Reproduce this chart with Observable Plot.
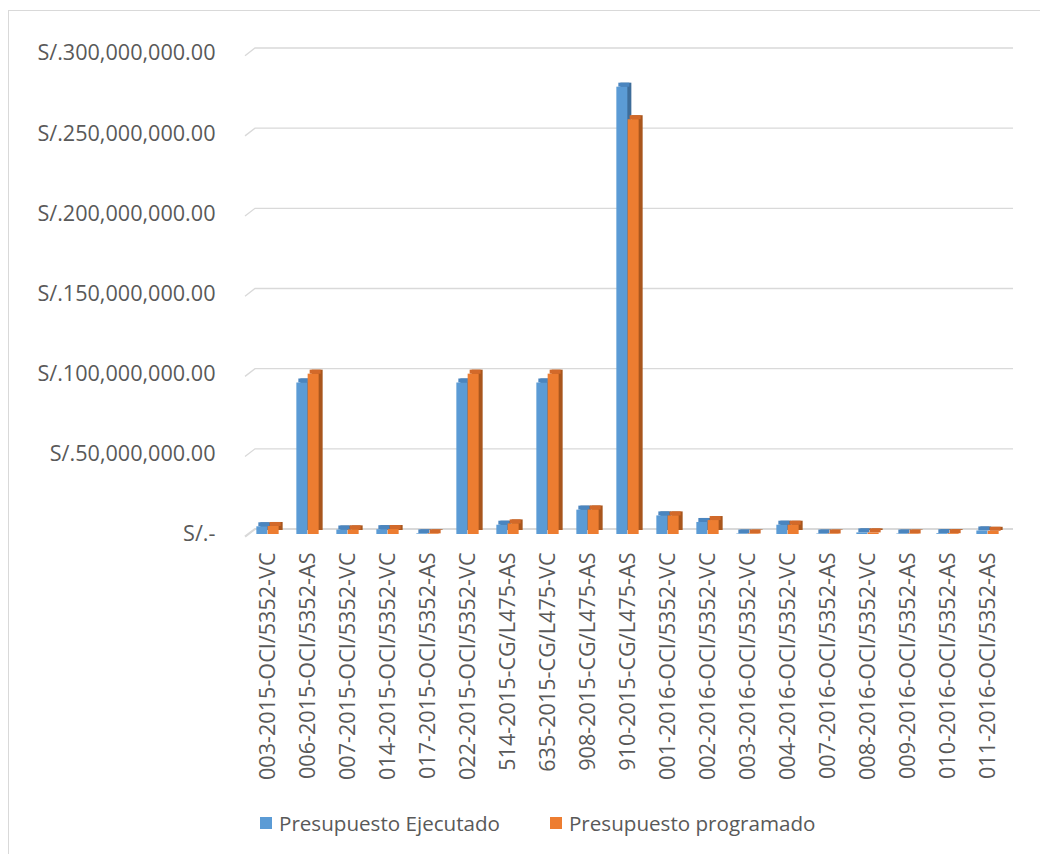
<!DOCTYPE html>
<html>
<head>
<meta charset="utf-8">
<script src="https://cdn.jsdelivr.net/npm/d3@7"></script>
<script src="https://cdn.jsdelivr.net/npm/@observablehq/plot@0.6"></script>
<style>
  html, body { margin: 0; padding: 0; background: #fff; }
  #wrap { position: relative; width: 1040px; height: 854px; overflow: hidden; font-family: "Open Sans", sans-serif; }
  #frame { position: absolute; left: 8px; top: 10px; width: 1040px; height: 860px; border-left: 1px solid #d9d9d9; border-top: 1px solid #d9d9d9; }
  #chart { position: absolute; left: 0; top: 0; }
  #legend { position: absolute; left: 260px; top: 809px; display: flex; align-items: center; color: #595959; font-size: 20.6px; }
  #legend .item { display: flex; align-items: center; margin-right: 50px; }
  #legend .sw { width: 12px; height: 12px; margin-right: 7px; }
</style>
</head>
<body>
<div id="wrap">
  <div id="frame"></div>
  <div id="chart"></div>
  <div id="legend"></div>
</div>
<script>
const categories = [
  "003-2015-OCI/5352-VC","006-2015-OCI/5352-AS","007-2015-OCI/5352-VC","014-2015-OCI/5352-VC",
  "017-2015-OCI/5352-AS","022-2015-OCI/5352-VC","514-2015-CG/L475-AS","635-2015-CG/L475-VC",
  "908-2015-CG/L475-AS","910-2015-CG/L475-AS","001-2016-OCI/5352-VC","002-2016-OCI/5352-VC",
  "003-2016-OCI/5352-VC","004-2016-OCI/5352-VC","007-2016-OCI/5352-AS","008-2016-OCI/5352-VC",
  "009-2016-OCI/5352-AS","010-2016-OCI/5352-AS","011-2016-OCI/5352-AS"
];
const seriesNames = ["Presupuesto Ejecutado", "Presupuesto programado"];
const ejecutado = [4.8e6, 94.5e6, 2.8e6, 3.0e6, 0.4e6, 94.5e6, 5.8e6, 94.5e6, 15.2e6, 279e6, 11.6e6, 7.5e6, 0.3e6, 5.8e6, 0.3e6, 1.0e6, 0.3e6, 0.5e6, 2.2e6];
const programado = [5.0e6, 100e6, 2.9e6, 3.1e6, 0.4e6, 100e6, 6.6e6, 100e6, 15.3e6, 258.7e6, 11.6e6, 8.7e6, 0.3e6, 5.8e6, 0.3e6, 1.0e6, 0.3e6, 0.5e6, 2.0e6];
const yTicks = [0, 50e6, 100e6, 150e6, 200e6, 250e6, 300e6];

const colors = {front: ["#5b9bd5", "#ed7d31"], top: ["#4a85bf", "#d2692a"], side: ["#3e6d9a", "#a9561d"]};

const rowsE = categories.map((c, i) => ({cat: c, value: ejecutado[i]}));
const rowsP = categories.map((c, i) => ({cat: c, value: programado[i]}));

const half = 5.65, depth = 4;
const fmt = v => v === 0 ? "S/.-" : "S/." + d3.format(",.2f")(v);

function barMarks(rows, k, off) {
  return [
    Plot.barY(rows, {x: "cat", y: "value", fill: colors.side[k], dx: off + depth, dy: -depth}),
    Plot.barY(rows, {x: "cat", y1: "value", y2: "value", insetTop: -depth, fill: colors.top[k], dx: off + depth / 2}),
    Plot.barY(rows, {x: "cat", y: "value", fill: colors.front[k], dx: off})
  ];
}

const grid = (index, scales, values, dims) => {
  const g = d3.create("svg:g");
  const x0 = dims.marginLeft, x1 = dims.width - dims.marginRight + 5;
  for (const t of yTicks) {
    const yy = scales.y(t);
    g.append("path")
      .attr("d", `M${x0 - 3},${yy + 2.7}L${x0 + 7},${yy - 5}H${x1}`)
      .attr("fill", "none")
      .attr("stroke", "#d9d9d9")
      .attr("stroke-width", t === 0 ? 2.2 : 1.3);
  }
  return g.node();
};

const plot = Plot.plot({
  width: 1040,
  height: 800,
  marginLeft: 248,
  marginRight: 32,
  marginTop: 53,
  marginBottom: 266,
  style: {fontFamily: "Open Sans", fontSize: "21.6px", color: "#595959", background: "transparent", overflow: "visible"},
  x: {type: "band", domain: categories, paddingInner: 0.7175, paddingOuter: 0.35875, tickRotate: -90, tickSize: 0, tickPadding: 18, label: null},
  y: {domain: [0, 300e6], ticks: yTicks, tickFormat: fmt, tickSize: 0, tickPadding: 33, label: null},
  marks: [
    grid,
    ...barMarks(rowsE, 0, -half),
    ...barMarks(rowsP, 1, half)
  ]
});
document.getElementById("chart").appendChild(plot);

const legend = document.getElementById("legend");
seriesNames.forEach((name, k) => {
  const item = document.createElement("div");
  item.className = "item";
  const sw = document.createElement("span");
  sw.className = "sw";
  sw.style.background = colors.front[k];
  const tx = document.createElement("span");
  tx.textContent = name;
  item.appendChild(sw);
  item.appendChild(tx);
  legend.appendChild(item);
});
</script>
</body>
</html>
